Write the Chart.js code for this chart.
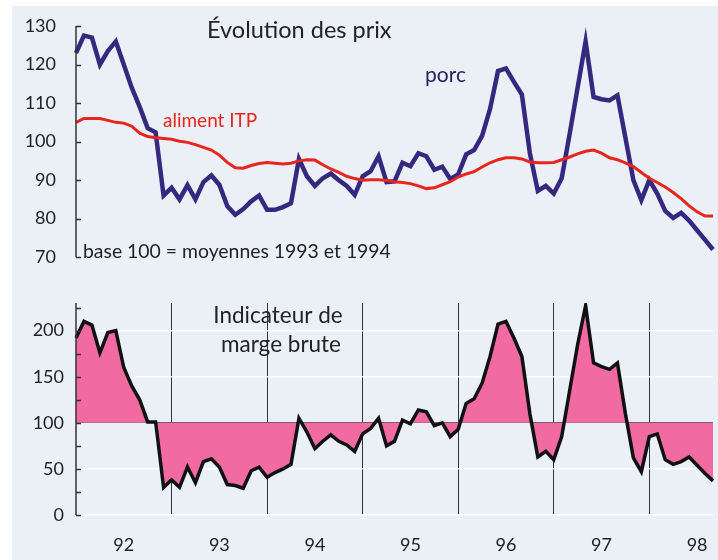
<!DOCTYPE html>
<html>
<head>
<meta charset="utf-8">
<script src="https://cdn.jsdelivr.net/npm/chart.js@4.4.0/dist/chart.umd.min.js"></script>
<style>
  body { margin: 0; background: #fff; }
  #fond { position: absolute; left: 12px; top: 6px; width: 706px; height: 554px; background: #ebf0f7; }
  .boite { position: absolute; left: 0; width: 718px; height: 280px; }
  #haut { top: 0; }
  #bas { top: 280px; }
</style>
</head>
<body>
<div id="fond"></div>
<div class="boite" id="haut"><canvas class="graf-prix"></canvas></div>
<div class="boite" id="bas"><canvas class="graf-marge"></canvas></div>
<script>
// annees affichees sous l'axe, donnees mensuelles de janv. 92 a sept. 98
const annees = ['92', '93', '94', '95', '96', '97', '98'];
const nbMois = 81;

const porc = [
  123, 127.5, 127, 120, 123.5, 126, 120, 114, 109, 103.5, 102.4, 86,
  88, 85, 88.7, 85, 89.5, 91.2, 88.8, 83.3, 81, 82.5, 84.5, 86,
  82.3, 82.3, 83, 84, 95.5, 91, 88.5, 90.5, 91.7, 90, 88.5, 86.2,
  91, 92.3, 96.2, 89.5, 89.7, 94.5, 93.6, 97, 96.2, 92.7, 93.5, 90.3,
  91.5, 96.7, 97.8, 101.5, 108.5, 118.3, 119, 115.5, 112.2, 97, 87.2, 88.5,
  86.5, 90.5, 102, 114, 126, 111.6, 111, 110.7, 112, 101, 90, 84.8,
  90, 86.5, 82, 80.2, 81.5, 79.5, 77, 74.5, 72
];

const alimentITP = [
  105, 106, 106, 106, 105.5, 105, 104.8, 104, 102.2, 101.3, 101, 100.8,
  100.6, 100.1, 99.8, 99.2, 98.5, 97.8, 96.5, 94.6, 93.2, 93.1, 93.8, 94.3,
  94.6, 94.4, 94.2, 94.4, 95, 95.3, 95.2, 94, 92.9, 92, 91, 90.4,
  90, 90.1, 90.1, 89.9, 89.6, 89.4, 89.1, 88.5, 87.8, 88, 88.8, 89.6,
  90.8, 91.6, 92.2, 93.4, 94.5, 95.3, 95.8, 95.8, 95.5, 94.7, 94.5, 94.5,
  94.6, 95.3, 96, 96.8, 97.5, 97.8, 97, 95.8, 95.3, 94.5, 93.5, 92,
  90.5, 89.4, 88.2, 86.8, 85.2, 83.3, 81.8, 80.7, 80.7
];

const margeBrute = [
  192, 210, 206, 176, 198, 200, 160, 140, 125, 101, 101, 30,
  38, 30, 52, 35, 58, 61, 52, 33, 32, 29, 48, 52,
  41, 46, 50, 55, 105, 90, 72, 80, 87, 80, 76, 69,
  88, 94, 105, 75, 80, 103, 99, 114, 112, 97, 100, 85,
  93, 121, 126, 143, 172, 207, 210, 192, 172, 110, 63, 69,
  60, 85, 135, 185, 227, 165, 161, 158, 165, 110, 62, 47,
  85, 88, 60, 55, 58, 63, 54, 45, 37
];

const ticksPrix = [70, 80, 90, 100, 110, 120, 130];
const ticksMarge = [0, 50, 100, 150, 200];

const mois = [];
for (let i = 0; i < nbMois; i++) {
  mois.push(annees[Math.floor(i / 12)] + '-' + String(i % 12 + 1).padStart(2, '0'));
}

const police = 'Lato, "Open Sans", sans-serif';
const encre = '#222';

// axe vertical en crochet, graduations vers l'interieur
const crochet = {
  id: 'crochet',
  afterDraw(chart, args, opts) {
    const c = chart.ctx, y = chart.scales.y, a = chart.chartArea;
    c.save();
    c.strokeStyle = '#333';
    c.lineWidth = 1.5;
    c.beginPath();
    c.moveTo(a.left, y.getPixelForValue(y.max));
    c.lineTo(a.left, y.getPixelForValue(y.min));
    const pas = opts.pas;
    for (let v = y.min; v <= y.max; v += pas) {
      const py = Math.round(y.getPixelForValue(v)) + 0.5;
      c.moveTo(a.left, py);
      c.lineTo(a.left + 5, py);
    }
    c.stroke();
    c.restore();
  }
};

const textes = {
  id: 'textes',
  afterDraw(chart, args, opts) {
    const c = chart.ctx;
    c.save();
    c.textBaseline = 'middle';
    opts.liste.forEach(t => {
      c.font = t.taille + 'px ' + police;
      c.fillStyle = t.couleur || encre;
      c.textAlign = t.align || 'left';
      c.fillText(t.texte, t.x, t.y);
    });
    c.restore();
  }
};

const ctx = document.querySelector('.graf-prix');
const ctx2 = document.querySelector('.graf-marge');

let grafPrix = new Chart(ctx, {
  type: 'line',
  data: {
    labels: mois,
    datasets: [{
      label: 'aliment ITP',
      data: alimentITP,
      borderColor: '#e8251f',
      borderWidth: 3,
      pointRadius: 0,
      tension: 0
    }, {
      label: 'porc',
      data: porc,
      borderColor: '#37287f',
      borderWidth: 4.5,
      pointRadius: 0,
      tension: 0
    }]
  },
  options: {
    responsive: true,
    maintainAspectRatio: false,
    animation: false,
    layout: { padding: { top: 26, bottom: 10, right: 5, left: 0 } },
    plugins: {
      legend: { display: false },
      tooltip: { enabled: false },
      crochet: { pas: 10 },
      textes: {
        liste: [
          { texte: 'Évolution des prix', x: 207, y: 30, taille: 23.5 },
          { texte: 'porc', x: 425, y: 75, taille: 21 },
          { texte: 'aliment ITP', x: 163, y: 121, taille: 19, couleur: '#e8251f' },
          { texte: 'base 100 = moyennes 1993 et 1994', x: 83, y: 252, taille: 19.4 }
        ].map(t => t.texte === 'porc' ? Object.assign(t, { couleur: '#2b2160' }) : t)
      }
    },
    scales: {
      x: { display: false },
      y: {
        min: 70,
        max: 130,
        afterFit: s => { s.width = 76; },
        afterBuildTicks: s => { s.ticks = ticksPrix.map(v => ({ value: v })); },
        grid: { display: false },
        border: { display: false },
        ticks: { color: encre, font: { family: police, size: 18 }, padding: 12 }
      }
    }
  },
  plugins: [crochet, textes]
});

let grafMarge = new Chart(ctx2, {
  type: 'line',
  data: {
    labels: mois,
    datasets: [{
      label: 'Indicateur de marge brute',
      data: margeBrute,
      borderColor: '#111',
      borderWidth: 3.5,
      backgroundColor: '#f26aa2',
      fill: { value: 100 },
      pointRadius: 0,
      tension: 0
    }]
  },
  options: {
    responsive: true,
    maintainAspectRatio: false,
    animation: false,
    layout: { padding: { top: 23, bottom: 0, right: 5, left: 0 } },
    plugins: {
      legend: { display: false },
      tooltip: { enabled: false },
      crochet: { pas: 25 },
      textes: {
        liste: [
          { texte: 'Indicateur de', x: 278, y: 36, taille: 22.5, align: 'center' },
          { texte: 'marge brute', x: 281, y: 65, taille: 22.5, align: 'center' }
        ]
      }
    },
    scales: {
      x: {
        afterFit: s => { s.height = 45; s.paddingLeft = 0; s.paddingRight = 0; },
        grid: {
          drawTicks: false,
          color: c => (c.index > 0 && c.index % 12 === 0) ? '#333' : 'rgba(0,0,0,0)',
          lineWidth: 1
        },
        border: { display: false },
        ticks: {
          autoSkip: false,
          maxRotation: 0,
          padding: 19,
          color: encre,
          font: { family: police, size: 18 },
          callback: (v, i) => (i % 12 === 6) ? annees[Math.floor(i / 12)] : ''
        }
      },
      y: {
        min: 0,
        max: 230,
        afterFit: s => { s.width = 76; },
        afterBuildTicks: s => { s.ticks = ticksMarge.map(v => ({ value: v })); },
        grid: {
          drawTicks: false,
          color: c => c.tick.value === 100 ? '#555' : 'rgba(255,255,255,0.9)',
          lineWidth: c => c.tick.value === 100 ? 1 : 1.5
        },
        border: { display: false },
        ticks: { color: encre, font: { family: police, size: 18 }, padding: 12 }
      }
    }
  },
  plugins: [crochet, textes]
});
</script>
</body>
</html>
